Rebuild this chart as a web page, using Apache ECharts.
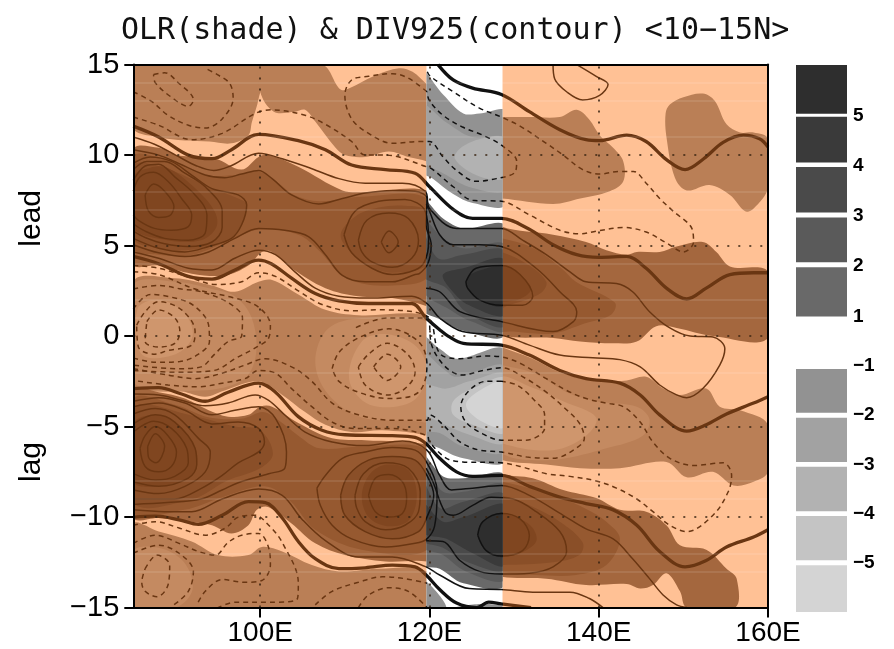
<!DOCTYPE html>
<html><head><meta charset="utf-8">
<style>html,body{margin:0;padding:0;background:#fff}#c{width:894px;height:649px}</style>
<script src="https://cdn.jsdelivr.net/npm/echarts@6/dist/echarts.min.js"></script>
</head><body><div id="c"></div>
<script>
// ---- axes ----
const lonTicks=[100,120,140,160];
const lagTicks=[-15,-10,-5,0,5,10,15];
const gridLons=[100,120,140];
const gridLags=[-10,-5,0,5,10];
const faintRows=[14,13,11,8,7,4,2,1,-2,-8,-9,-12,-13];
const bandLimits=[119.64,128.63];
// ---- colour bar ----
const posBar=[[1,1.98],[2.08,2.97],[3.07,3.97],[4.06,4.97],[5.03,6]];
const negBar=[[-6,-5.05],[-4.95,-4.05],[-3.95,-3.05],[-2.95,-2.05],[-1.95,-1.06]];
// ---- OLR shade, brown part (lon,lag) ----
const pos1Lead=[[85,10.3],[88,10.4],[90,10],[94.7,9.8],[97.8,9.2],[99.8,9.9],[101,10],[104.5,9.35],[109.7,8.05],[112.4,7.95],[119.7,8.05],[128.5,6.05],[134.6,5.6],[138.5,5.2],[140.9,4.75],[143.3,4.5],[144.5,4.65],[147.2,4.65],[149.2,4.95],[152.3,5.2],[153.9,4.65],[155.5,3.85],[160,3.55],[160,-0.1],[153.5,0],[149.2,0.45],[146.8,0.55],[144.5,-0.3],[141.7,-0.4],[137.8,-0.3],[134.6,-0.1],[128.5,0.05],[119.7,1.65],[115.6,2.1],[111.6,2.2],[107.7,2.65],[103.7,3.75],[101.4,4.65],[100.2,4.65],[98.6,3.9],[95.8,3.35],[91.9,3.45],[88,3.9],[85,4]];
const pos1Lag=[[85,-3],[88,-3.1],[91.1,-3.45],[93.9,-4.1],[96.2,-4.45],[98.6,-4.35],[100,-3.9],[101.4,-3.9],[104.5,-4.8],[108.5,-5.65],[112.4,-5.75],[119.7,-6],[128.5,-7.6],[132.2,-7.85],[135.8,-8.5],[139.7,-8.95],[142.5,-9.6],[145.6,-9.7],[148,-10.45],[149.6,-11.55],[152.7,-11.8],[155.1,-12.85],[156.3,-13.4],[156.1,-15],[150.4,-15],[149.6,-14.1],[148,-13.1],[146.4,-13.75],[144.9,-13.95],[143.3,-13.7],[138.5,-13.75],[133.8,-13.4],[128.5,-13.3],[119.7,-12.45],[114.8,-12.45],[110,-12.1],[106.5,-11.45],[103.7,-10.35],[101,-9.45],[99.6,-9.6],[98.6,-10.45],[96.6,-10.9],[94.3,-10.45],[91.9,-10.25],[88,-10.05],[85,-10]];
const pos2LeadWest=[[85,9.9],[89,9.7],[93.5,8.9],[97,8.9],[99.8,9.1],[102,8.5],[104,7.8],[107,7.45],[112,7.7],[119.7,7.6],[120.5,5],[119.7,3.2],[115.6,2.8],[112,2.9],[109.5,3.4],[107,4.7],[104.5,5.6],[100,5.9],[96,5.2],[92,4.5],[88,4.5],[85,4.9]];
const pos2LeadEast=[[126,5.5],[128.5,5.4],[132.3,4.85],[135.6,3.75],[137.3,3],[141.9,1.85],[141.5,1.2],[138.3,0.7],[134.6,0.15],[129.9,0.25],[126,0.5]];
const pos3LeadWest=[[85,9.4],[88,9.4],[92.3,8.6],[94.3,8.15],[97.4,7.6],[98.4,7.25],[97.8,6.15],[96.6,5.4],[93.9,4.95],[91.1,4.75],[88,4.85],[85,5.4]];
const pos3LeadMid=[[109.5,5.6],[111.2,6.6],[114,7.1],[117.1,7.2],[119.7,6.9],[120.5,5.2],[119.7,3.9],[115.6,3.5],[113.2,3.8],[110.8,4.6]];
const pos3LeadEast=[[126,4.8],[128.5,4.65],[131.8,3.9],[133.8,3],[133.2,2.4],[130,1.8],[126,1.4]];
const pos4LeadWest=[[85,8.8],[87,9.3],[89,9.3],[92,8.3],[94.6,6.9],[94.8,6],[93,5.3],[89,5.3],[85,6]];
const pos4LeadEast=[[126,4],[128.5,3.95],[130.7,3.4],[132,2.6],[130.7,2.05],[128.5,1.9],[126,1.9]];
const pos2LagWest=[[85,-3.5],[90,-3.8],[94,-4.5],[98,-4.55],[100.3,-4.2],[102,-4.6],[104.5,-5.5],[107,-6.2],[112,-6.1],[119.7,-6.3],[120.5,-9],[119.7,-11.8],[112,-11.8],[106.5,-10.7],[103.5,-9.1],[100.5,-8.3],[95.5,-8.9],[91,-9.6],[85,-9.7]];
const pos2LagEast=[[126,-7.9],[128.5,-8.05],[132.2,-8.45],[135.8,-9],[138.5,-9.55],[140.9,-10.25],[142.5,-11.2],[140.9,-12.65],[137.3,-13.2],[132.6,-13.2],[128.5,-13.05],[126,-12.9]];
const pos3LagWest=[[85,-4],[92,-4.4],[97,-5],[100,-5.2],[101.5,-6.5],[100,-7.3],[96,-8],[92,-9],[85,-9.2]];
const pos3LagMid=[[109.5,-8.8],[110.4,-7.7],[112.8,-6.85],[115.6,-6.65],[118.3,-6.85],[119.7,-7.7],[120.5,-8.8],[119.7,-10],[118.7,-10.8],[115.6,-11.2],[112.4,-10.8],[110,-9.9]];
const pos3LagEast=[[126,-8.8],[128.5,-8.8],[131.8,-9.35],[135.4,-10.25],[138.1,-11.4],[137.7,-12.1],[134.6,-12.5],[128.5,-12.65],[126,-12.6]];
const pos4LagWest=[[85,-4.85],[87.6,-4.35],[89.9,-4.75],[92.3,-6.2],[92.5,-7.1],[91.5,-7.85],[88,-8.3],[85,-8.05]];
const pos4LagMid=[[112,-8.8],[113,-7.6],[115,-7.1],[117.5,-7.4],[118.5,-8.8],[117.5,-10.2],[115,-10.5],[112.8,-10]];
const pos4LagEast=[[126,-9.8],[128.5,-9.8],[130.7,-10.1],[132.2,-10.6],[132.6,-11.35],[130.7,-12],[128.5,-12.2],[126,-12.2]];
const neg1TopWest=[[85,15],[100.3,15],[99.8,13.1],[99,11.8],[98.6,11.1],[96.6,10.65],[94,10.75],[91.1,10.8],[88,11],[85,11.5]];
const neg1TopMid=[[100.2,15],[100,13.5],[101.6,12.4],[104.1,12.4],[105.3,12.5],[106.5,11.85],[108.9,10.4],[110,10],[112.4,9.9],[115.2,10.2],[117.5,9.9],[119.7,9.65],[122,9],[122,13],[119.7,13.9],[118,14.6],[116.4,14.8],[113.6,14.4],[110,13.6],[109.3,13.7],[107.3,15]];
const neg1TopEast=[[126,12],[128.5,12.1],[131.8,12.1],[135.4,12.1],[137.4,12.5],[138.9,11.95],[140.1,11.1],[141.7,10.4],[142.9,9.65],[142.9,8.55],[141.3,8],[137.8,7.6],[134.6,7.3],[128.5,7.6],[126,7.6]];
const neg1TopFar=[[148.4,12.8],[150,13.2],[152.3,13.4],[153.7,13],[155.1,11.7],[156.7,11.25],[158.3,11.25],[160,10.9],[160,8.2],[158.3,7.05],[157.3,6.9],[155.5,7.8],[153.1,8.35],[150.4,8.05],[149,8.75],[148,11],[147.9,12.3]];
const neg1Mid=[[85,3],[89.9,3.2],[94.3,2.8],[97,2.45],[99.8,3],[101.4,3.1],[104.5,2.3],[107.7,1.45],[111.6,1.15],[119.7,1.15],[128.5,-0.6],[132.2,-1.25],[135.4,-2],[139,-2.45],[140.9,-2.5],[143.3,-2.45],[145.6,-2.25],[147.6,-2.9],[149.6,-3.25],[152.7,-2.9],[154.3,-3.9],[156.7,-4.1],[160,-4.9],[160,-7.5],[158.3,-8.05],[155.9,-8.25],[153.5,-7.5],[150.4,-7.8],[148,-6.95],[142.5,-7.3],[137.8,-7.3],[133.8,-7.1],[128.5,-6.85],[119.7,-5.5],[114.4,-5.2],[110.8,-5.3],[107.7,-4.9],[105.3,-4.2],[102.6,-3.25],[99.8,-2.5],[95.8,-3],[93.5,-3.35],[90.7,-3.05],[85,-2.7]];
const neg1Low=[[85,-10.4],[88,-10.8],[91.9,-11.35],[95,-12.1],[98.6,-12.1],[100.2,-11.65],[102.6,-11.9],[106.1,-12.65],[109.3,-13],[114,-12.85],[119.7,-13],[122,-15],[85,-15]];
const neg2MidWest=[[85,2.8],[90,3],[94.3,2.6],[97,2.2],[99,1],[99.5,-1],[98,-2.4],[93,-3],[85,-2.5]];
const neg2MidEast=[[108,0.4],[112,1],[119.7,0.8],[122,-1],[128.5,-1.6],[132.6,-2.1],[136.2,-3.1],[139.7,-3.6],[144.5,-3.9],[146,-4.6],[145.2,-5.5],[140.9,-6.2],[135.4,-6.8],[130.7,-6.8],[128.5,-6.5],[119.7,-4.8],[112,-4.5],[108,-3.2],[106.5,-1.4]];
const neg3MidEast=[[128,-2.3],[132.2,-2.85],[135.8,-3.6],[139.7,-4.5],[138.5,-5.5],[134.6,-6.3],[128.5,-5.9],[126,-5]];
const neg3MidWest=[[112,-0.3],[115,0.1],[118.5,-0.6],[119.7,-2],[118,-3.6],[113,-3.8],[110.5,-2.4]];
const neg3MidFar=[[85.5,1.5],[88,2],[91,1.3],[92,0],[90,-1],[86,-1]];
const neg2Low=[[85,-11.9],[88,-11.7],[91,-12.5],[92,-14],[90,-15],[85,-15]];
// ---- OLR shade, grey band part ----
const bandNeg1Top=[[119,14.65],[121.6,13.35],[124,12.3],[125.9,12.3],[129,12.4],[129,7.3],[125.1,7.35],[122.8,7.85],[120.4,8.7],[119,9.15]];
const bandNeg2Top=[[119,12.8],[122,11.8],[125,11],[129,10.9],[129,8.1],[125,8.2],[122,8.9],[119,9.9]];
const bandNeg3Top=[[124,10.5],[127,11],[129,10.9],[129,8.8],[126,8.8],[123,9.8]];
const bandPos1Lead=[[119,7.6],[121.6,6.5],[124,5.95],[129,6.05],[129,0.1],[124,0.3],[121.6,0.85],[119,1.6]];
const bandPos2Lead=[[119,6.5],[121.6,5.4],[124,4.85],[129,5],[129,0.35],[125,0.8],[122.8,1.35],[119,2.65]];
const bandPos3Lead=[[119,6],[121,4.3],[124,4.5],[129,4.65],[129,0.6],[124.3,1.35],[122,2.65],[119,3.4]];
const bandPos4Lead=[[121.6,3.4],[124,3.75],[129,4.2],[129,1.2],[124.7,1.7],[122.4,2.65]];
const bandPos5Lead=[[124.3,3],[125.5,3.55],[129,3.75],[129,1.7],[125.9,2]];
const bandNeg1Mid=[[119,0],[121.2,-0.7],[123.2,-1.25],[129,-0.8],[129,-6.85],[124,-6.75],[121.2,-6.2],[119,-5.55]];
const bandNeg2Mid=[[119,-0.9],[121.6,-1.8],[123.2,-2.25],[129,-1.7],[129,-6.3],[124,-6.1],[121.2,-5.35],[119,-5.1]];
const bandNeg3Mid=[[119,-2.7],[122,-2.9],[124.7,-2.5],[129,-2.15],[129,-5.85],[124.7,-5.45],[121.2,-4.75],[119,-4.1]];
const bandNeg4Mid=[[122.8,-3.6],[125.1,-2.9],[129,-2.35],[129,-5.3],[125.1,-4.9],[122.8,-4.35]];
const bandNeg5Mid=[[124.3,-3.8],[126.3,-2.9],[129,-2.5],[129,-5],[126.3,-4.75]];
const bandPos1Lag=[[119,-6.5],[121.6,-7.75],[124,-7.85],[129,-7.75],[129,-13.7],[124,-13.65],[121.2,-12.85],[119,-12.55]];
const bandPos2Lag=[[119,-7.1],[121.6,-8.6],[124,-8.6],[129,-8.3],[129,-13.4],[124.3,-13],[121.6,-12.1],[119,-11.55]];
const bandPos3Lag=[[119,-7.85],[121.2,-9.5],[124,-9.15],[129,-8.8],[129,-12.85],[124.3,-12.45],[121.6,-11.7],[119,-11.2]];
const bandPos4Lag=[[119,-9.15],[121.6,-10.25],[124,-10],[129,-9.35],[129,-12.65],[124.7,-11.9],[122,-11.2],[119,-10.8]];
const bandPos5Lag=[[125.7,-11],[126.3,-10.25],[129,-9.8],[129,-12.15],[126.7,-11.85]];
const bandNeg1Low=[[119,-13.4],[122,-15],[119,-15]];
const bandNeg1Foot=[[123,-15],[126,-14.8],[129,-14.9],[129,-15]];
// ---- DIV925 contours: zero lines ----
const zeroA=[[121,15],[122.8,14.15],[125.1,13.7],[128.5,13.35],[131.8,12.4],[135.4,11.4],[138.5,10.85],[140.1,10.8],[143.3,11.1],[145.6,10.75],[148,9.75],[150.2,9.2],[152.4,9.8],[154.7,10.7],[157.1,11.1],[159,10.9],[160,10.45]];
const zeroB=[[85,11.6],[88,11],[91.5,10],[94.3,9.8],[96.6,10.3],[99.8,11.15],[104.5,10.8],[107.7,10.3],[110.8,9.45],[114.8,9.2],[118.3,9],[120,8.25],[122.8,7],[125.1,6.5],[128.5,6.5],[131.8,5.9],[134.6,5.05],[137.4,4.5],[140,4.35],[143.3,4.4],[145.6,3.75],[148,2.65],[150.4,2.05],[152.7,2.65],[155.5,3.4],[158.3,3.5],[160,3.5]];
const zeroC=[[85,4.4],[88,4],[91.5,3.3],[94.3,3.15],[97,3.65],[99.8,4.2],[101.3,4],[103.7,3.2],[106.5,2.35],[109.3,1.95],[112.8,1.8],[117.9,1.8],[119.6,1],[121.2,0.35],[122.2,0],[124,-0.4],[128.5,-0.5],[131.8,-1.05],[135.4,-1.9],[138.5,-2.35],[142.5,-2.6],[144.9,-3.25],[147.2,-4.35],[150.4,-5.25],[152.7,-4.9],[155.1,-4.3],[158.3,-3.7],[160,-3.35]];
const zeroD=[[85,-2.9],[88,-2.85],[90.7,-3.2],[93.5,-3.6],[96.2,-3.1],[99.8,-2.6],[101.8,-3.1],[104.5,-4.45],[107.3,-5.2],[110,-5.45],[115.6,-5.5],[118.3,-5.6],[119.6,-5.95],[121.2,-6.75],[123.2,-7.5],[125.1,-7.75],[128.5,-7.7],[131.8,-8.3],[135.4,-8.9],[138.5,-9.25],[141.7,-9.6],[144.5,-10.45],[147.2,-11.9],[150.2,-12.75],[152.7,-12.4],[155.1,-11.65],[158.3,-11.1],[160,-10.7]];
const zeroE=[[85,-10],[87.6,-9.95],[90.4,-10.15],[92.7,-10.4],[95.5,-9.9],[98.6,-9.15],[100.6,-9.2],[102.6,-10.05],[104.5,-11.35],[106.5,-12.3],[109.3,-12.85],[112.4,-12.8],[115.6,-12.65],[118.3,-12.75],[119.6,-13.2],[121.2,-14],[123.2,-14.75],[125.6,-15],[127,-14.7],[128.5,-14.8],[132,-15]];
// ---- positive contours ----
const posOuterLead=[[85,11],[87.5,10.6],[90,10],[92.5,9.4],[94.5,9.15],[96.5,9.4],[99.8,10.1],[102.6,9.8],[106.1,9.25],[109.3,8.7],[112.4,8.45],[116.8,8.45],[119.5,8],[120,7.05],[123.2,5.95],[128.5,5.95],[131,5.3],[133.8,4.5],[136.6,3.55],[138.5,3],[142.1,2.9],[144,2.45],[146,1.35],[148.4,0.45],[150.8,0],[153.5,-0.05],[154.9,-0.7],[154.3,-1.6],[152.3,-2.9],[150.4,-3.4],[149.2,-3.25],[147.2,-2.7],[144.9,-1.7],[142.5,-1.3],[139.3,-1.2],[135.4,-1.05],[131.8,-0.5],[128.5,0.05],[123.9,0.25],[121.2,1],[119.7,1.8],[117.9,2.2],[112.8,2.1],[109.3,2.2],[106.5,2.65],[104.1,3.55],[101.8,4.5],[99.8,4.75],[97,4.3],[94.3,3.65],[91.5,3.75],[88,4.3],[85,4.65]];
const posLeadWide=[[85,10.3],[88,10],[90.3,9.55],[93.5,8.9],[95.8,8.75],[97.8,8.95],[99.8,9.15],[101.4,8.7],[103.7,7.8],[106.9,7.3],[109.7,7.6],[112.4,7.9],[115.6,8.05],[118.3,8],[119.7,7.6],[119.6,6.15],[120.2,5.05],[119.8,4],[118.8,3.45],[118.3,3.4],[115.6,3],[112.4,3],[109.7,3.35],[107.7,4.5],[105.7,5.5],[102.9,5.85],[99.8,5.95],[97,5.4],[93.9,4.65],[91.1,4.4],[88,4.6],[85,5.05]];
const leadWest5=[[85,9.55],[87,9.9],[89.5,9.65],[91.9,8.9],[94.3,8.15],[97.4,7.8],[98.4,7.25],[97.8,6.15],[96.6,5.4],[93.9,4.95],[91.1,4.65],[88,4.85],[85,5.4]];
const leadWest4=[[85,9.2],[86.6,9.65],[88.7,9.65],[91.1,9],[93.5,8.25],[95.5,6.9],[95.5,6],[94.3,5.2],[91.5,4.95],[88.7,5.1],[86.4,5.45],[85,5.8]];
const leadWest3=[[85,8.6],[86.4,9.4],[88,9.5],[89.9,8.8],[92.3,7.8],[93.7,6.7],[93.5,5.7],[91.5,5.3],[88.7,5.4],[86.4,5.8],[85,6.2]];
const leadWest2=[[85,8],[85.8,8.8],[87.4,9.05],[89.2,8.5],[90.7,7.6],[91.9,6.7],[91.5,6.05],[89.5,5.85],[87.5,5.95],[85.6,6.4],[85,6.7]];
const leadWest1=[[86.4,7.8],[87.4,8.4],[88.7,8],[89.8,7.15],[89.3,6.65],[88,6.55],[86.8,6.9],[86.4,7.8]];
const leadMid1=[[114.3,5.2],[115.2,5.8],[116.3,5.2],[115.2,4.6],[114.3,5.2]];
const leadMid2=[[111.6,5.3],[112.6,6.4],[115.2,6.8],[117.5,6.5],[118.7,5.3],[117.9,4.3],[115.6,3.8],[113.2,4.1],[112,4.65],[111.6,5.3]];
const leadMid3=[[109.9,5.6],[111.2,6.9],[114,7.45],[117.1,7.55],[119.5,6.9],[119.9,5.2],[119.4,4.1],[118.3,3.65],[115.6,3.4],[113.2,3.75],[110.8,4.6],[109.9,5.6]];
const leadEast1=[[124.3,3],[125.5,3.75],[128.5,3.9],[130.7,3.4],[132.2,2.2],[131,1.7],[128.5,1.7],[125.9,2],[124.5,2.65],[124.3,3]];
const leadEast2=[[119.6,2.65],[121.2,2.45],[123.6,1.35],[128.5,0.8],[134.6,0.25],[137,0.8],[137.4,1.35],[135.4,2.45],[132.6,3.75],[128.5,4.95],[125.9,5.05],[122.8,5.05],[121.2,5.6],[120,6.9],[119.6,7.3]];
const lagWest1=[[86.7,-6.1],[87.6,-5.4],[88.7,-6.1],[87.7,-7],[86.8,-6.7],[86.7,-6.1]];
const lagWest2=[[85.8,-6.2],[86.4,-5.5],[87.6,-5],[89.1,-5.5],[90.1,-6.4],[89.5,-7.2],[88,-7.5],[86.4,-7.2],[85.8,-6.2]];
const lagWest3=[[85,-5.3],[87.4,-4.7],[89.5,-5.1],[91.3,-6.2],[91.5,-7],[89.9,-7.75],[87.6,-7.95],[85,-7.6]];
const lagWest4=[[85,-4.85],[87.6,-4.35],[89.9,-4.75],[92.3,-6.2],[92.5,-7.1],[91.5,-7.85],[88,-8.3],[85,-8.05]];
const lagWest5=[[85,-4.3],[87.6,-4],[89.9,-4.35],[92.7,-5.65],[94.1,-6.4],[93.5,-7.5],[91.1,-8.3],[88,-8.7],[85,-8.5]];
const lagWest6=[[85,-3.9],[88,-3.7],[91.1,-4.1],[94.3,-4.85],[97.4,-4.75],[99.8,-5.1],[100.5,-5.85],[99.8,-6.4],[97.4,-7],[95.5,-7.7],[93.1,-8.4],[89.9,-9],[85,-9]];
const lagWest7=[[85,-3.6],[88,-3.4],[91.1,-3.7],[94.3,-4.35],[97,-4.1],[99.8,-3.9],[101.8,-4.55],[103.1,-6.4],[102.9,-7.3],[101,-7.6],[97.4,-8.1],[95.5,-8.5],[93,-9],[89,-9.2],[85,-9.3]];
const lagOuter=[[85,-3.2],[88,-3.25],[90.7,-3.55],[93.5,-3.85],[96.2,-3.7],[99.4,-3.25],[101,-3.55],[103,-4.4],[105.3,-5.3],[108.5,-5.85],[112.4,-6.05],[116.8,-5.8],[119.7,-6.3],[121.2,-7.7],[122.6,-8.5],[125.1,-8.4],[128.5,-8.25],[131.8,-8.8],[135.8,-9.9],[138.5,-10.65],[141.7,-11.2],[144,-12.3],[146,-13.4],[147.6,-14.3],[149.2,-14.85],[150.4,-15]];
const lagOuterLow=[[140.5,-15],[138.9,-14.5],[136.6,-14.15],[132.2,-14.15],[128.5,-14],[124.7,-13.95],[121.2,-13.2],[119.6,-12.75],[115.6,-12.2],[111.6,-12.2],[107.7,-11.3],[104.9,-10.1],[102.6,-8.8],[99.8,-8.45],[95.5,-9],[91.9,-9.7],[88.7,-9.7],[85,-9.6]];
const lagMidA=[[112.8,-8.8],[113.6,-7.85],[115.2,-7.65],[116.8,-8.05],[117.3,-8.95],[116.8,-9.8],[115.2,-10],[113.6,-9.7],[112.8,-8.8]];
const lagMidB=[[111.2,-8.8],[112.2,-7.6],[114.8,-7],[117.5,-7.3],[118.9,-8.6],[118.7,-9.7],[117.1,-10.45],[114.8,-10.7],[112.4,-10.25],[111.4,-9.5],[111.2,-8.8]];
const lagMidC=[[109.5,-8.8],[110.4,-7.7],[112.8,-6.85],[115.6,-6.65],[118.3,-6.85],[119.7,-7.7],[120.5,-8.8],[119.7,-10],[118.7,-10.8],[115.6,-11.2],[112.4,-10.8],[110,-9.9],[109.5,-8.8]];
const lagMidD=[[106.7,-8.4],[107.7,-7.7],[109.7,-6.75],[112.4,-6.4],[115.6,-6.15],[118.3,-6.3],[119.7,-7],[120.9,-8.6],[120.6,-10.5],[119.7,-11.2],[118.3,-11.45],[114.8,-11.65],[110.8,-11.2],[108.5,-10.45],[107.1,-9.35],[106.7,-8.4]];
const lagEast1=[[125.7,-11],[126.3,-10.25],[128.5,-9.8],[130.7,-10.1],[131.8,-11],[131,-11.85],[128.5,-12.15],[126.7,-11.85],[125.7,-11]];
const lagEast2=[[119.6,-11.3],[121.6,-11.35],[123.6,-12.4],[125.9,-13],[128.5,-13.15],[131.8,-13.1],[134.6,-12.75],[136.2,-11.9],[135.4,-10.8],[132.6,-9.7],[129.9,-9],[127.3,-8.9],[125.1,-9.35],[122.8,-9.9],[121.8,-9.7],[120.4,-8.05],[119.6,-7.3]];
const topRightLoop=[[134.6,15],[134.8,14.2],[136.2,13.5],[138.1,13.05],[140.1,13.3],[141.1,13.9],[139.7,14.35],[137.4,15]];
// ---- negative contours ----
const topCore=[[87.4,14.45],[88.7,14.55],[90.3,14],[92.1,13.05],[91.5,12.7],[89.5,13.2],[87.6,14],[87.4,14.45]];
const topRing=[[85,13.5],[87.2,12.95],[89.1,12.2],[91.5,11.65],[93.5,11.5],[95.5,12],[96.8,13.15],[96.4,13.95],[95.1,14.4],[93.5,14.8]];
const topLong=[[85,12.1],[88,11.65],[91.9,10.85],[95.5,11.2],[99.4,12.3],[101.4,12.5],[105.3,12.2],[107.7,11.7],[110.8,10.75],[112.4,10],[114.8,10],[119.7,9.35],[120.4,9.2],[122.8,8.25],[125.1,7.5],[128.5,7.45],[131.8,6.7],[135.4,5.85],[137.8,5.65],[139.7,5.8],[142.9,6],[145.6,5.75],[148,5.15],[150,4.65],[151.2,5.2],[151,5.95],[148.8,6.9],[147.2,7.6],[145.6,8.45],[144.1,9.1],[142.5,9.1],[140.1,8.95],[138.1,9.2],[135.8,10],[133.8,10.65],[130.7,11.6],[128.5,12.1],[125.9,12.6],[122.8,13.5],[120,14.4],[119.6,14.8]];
const topLoop=[[119.7,13.5],[117.5,14.25],[115.6,14.5],[112.8,14.35],[110.8,14.15],[110,13.3],[110.8,12],[112.8,11.2],[115.6,10.65],[118.8,10.75],[120,10.75],[121.6,9.9],[123.2,9.15],[125.5,8.55],[127.9,8.7],[130.1,9.05],[130.3,9.65],[128.5,10.55],[126.3,11.1],[123.9,11.55],[121.6,12.2],[120,13],[119.7,13.5]];
const midWest1=[[86.6,0.8],[88,1.45],[89.9,1],[90.5,0.25],[89.9,-0.4],[88,-0.6],[86.4,-0.3],[86.6,0.8]];
const midWest2=[[85.4,0.6],[86.4,1.35],[88,1.9],[90.7,1.45],[92.3,0.25],[91.9,-0.5],[89.1,-0.8],[87.4,-1],[85.6,-0.6],[85.4,0.6]];
const midWest3=[[85,1.5],[87,2.3],[89.5,2.15],[92.1,1.7],[93.9,0.6],[94,-0.3],[92.7,-1],[90.5,-1.4],[87.6,-1.45],[85,-1.2]];
const midWest4=[[85,2.6],[88,2.8],[90.7,2.6],[93,2.45],[96.2,1.85],[97.9,1],[97.8,0],[96.2,-0.3],[94.5,-1.05],[93,-1.7],[90.1,-1.8],[85,-1.6]];
const midWest5=[[85,3.55],[88,3.4],[92.3,2.6],[97,2.1],[99.8,1.6],[101.2,0.6],[101,-0.1],[99.6,-0.6],[97.2,-1.2],[94.5,-1.9],[90.5,-2],[85,-1.9]];
const midBig=[[85,-1.8],[89.1,-2.15],[92.3,-2.35],[95.5,-2.05],[98.2,-1.6],[100.6,-1.25],[103.7,-1.7],[106.1,-2.5],[108.5,-3.7],[111.6,-4.35],[115.6,-4.65],[119.7,-4.65],[120,-4.35],[121.6,-4.9],[123.6,-5.85],[125.9,-6.3],[128.5,-6.4],[131.8,-6.7],[134.6,-6.75],[137,-6.3],[138.3,-5.65],[137.7,-4.8],[135.8,-3.9],[133.8,-3.1],[131.4,-2.35],[128.5,-1.75],[126.3,-1.9],[123.9,-2.15],[122.4,-1.9],[121,-1.2],[120.2,-0.4],[119.7,1],[115,1],[111,0.4]];
const midLong=[[85,3.9],[88,3.75],[91.9,3.2],[94.7,2.85],[97.8,3],[99.8,3.5],[101.8,3.3],[104.5,2.5],[107.3,1.75],[110.8,1.4],[113.9,1.45],[119.7,1.1],[121.2,-0.95],[123.6,-1.25],[126.7,-1.1],[128.5,-1.15],[130.7,-1.5],[133.8,-2.35],[136.2,-3],[138.5,-3.45],[140.9,-3.7],[142.9,-3.9],[144.9,-4.75],[146.4,-5.85],[148.4,-6.75],[151.2,-7.15],[154.7,-7],[155.7,-7.7],[155.3,-8.6],[153.5,-9.9],[150.4,-10.8],[148.4,-10.45],[146.4,-9.7],[144.5,-9],[142.1,-8.4],[139.7,-8],[136.6,-7.75],[133.8,-7.6],[130.7,-7.2],[128.5,-7],[123.9,-6.95],[122,-6.75],[120,-5.85],[119.7,-5.5],[115.6,-5.1],[111,-5.1],[108.5,-4.75],[106.1,-3.9],[103.7,-2.9],[101.8,-2.05],[99.8,-1.9],[98.2,-2.35],[95.5,-2.6],[92.7,-2.8],[89.1,-2.7],[85,-2.45]];
const midCore1=[[113.4,-1.7],[115,-1],[116.6,-1.7],[115,-2.45],[113.4,-1.7]];
const midCore2=[[111.6,-1.7],[112.8,-1],[115,-0.4],[117.5,-1.05],[118.3,-2],[117.1,-2.9],[115,-3.25],[112.4,-2.7],[111.6,-1.7]];
const midCore3=[[108.5,-1.8],[109.3,-0.9],[111.6,-0.1],[115.2,0.4],[118.7,-0.3],[119.7,-1.6],[118.7,-3.1],[115.2,-3.45],[111.6,-3.1],[109.3,-2.5],[108.5,-1.8]];
const midEastCore=[[128.5,-2.5],[126.7,-2.5],[124.7,-3],[123.7,-3.9],[124.3,-4.75],[126.3,-5.4],[128.5,-5.75],[131.4,-5.75],[133.6,-5.1],[133.6,-4.35],[132.2,-3.45],[130.3,-2.7],[128.5,-2.5]];
const lowA=[[85,-10.45],[87.6,-10.25],[90.4,-10.6],[93.5,-11],[95.9,-10.6],[97.4,-10],[99.4,-9.9],[101,-10.45],[102.6,-11.4],[104.5,-13.65],[104.4,-14.5],[101.4,-14.7],[97.1,-14.7],[95,-15]];
const lowB=[[85,-11.45],[87.6,-11],[90.4,-11.45],[92.7,-11.9],[94.7,-12.1],[96.2,-11.4],[97.8,-11],[99.8,-10.9],[101,-11.7],[101.2,-12.65],[100.2,-13.5],[98.2,-13.6],[95.5,-13.45],[93.5,-14.1],[92.5,-14.85]];
const lowCore=[[86.4,-12.85],[87.8,-12.1],[89.3,-12.65],[89.1,-13.75],[87.8,-14.4],[86.4,-14.1],[86,-13.6],[86.4,-12.85]];
const lowRing=[[85,-12],[88,-11.55],[90.7,-12.1],[92.1,-13],[91.5,-14.1],[89.5,-14.95]];
const lowEastA=[[106.5,-14.85],[108.5,-14.1],[111.6,-13.6],[114.4,-13.3],[117.1,-13.4],[119.7,-13.65]];
const lowEastB=[[111.6,-15],[112.8,-14.3],[115.2,-13.9],[117.5,-14.1],[119.7,-15]];

// ---- groups ----
const brownLayers=[
 [neg1TopWest,neg1TopMid,neg1TopEast,neg1TopFar,neg1Mid,neg1Low],
 [neg2MidWest,neg2MidEast,neg2Low],
 [neg3MidEast,neg3MidWest,neg3MidFar],
 [pos1Lead,pos1Lag],
 [pos2LeadWest,pos2LeadEast,pos2LagWest,pos2LagEast],
 [pos3LeadWest,pos3LeadMid,pos3LeadEast,pos3LagWest,pos3LagMid,pos3LagEast],
 [pos4LeadWest,pos4LeadEast,pos4LagWest,pos4LagMid,pos4LagEast]
];
const brownColors=['#BA7F56','#C48A61','#CF966D','#A4673E','#965930','#8A4F28','#804620'];
const greyLayers=[
 [bandNeg1Top,bandNeg1Mid,bandNeg1Low,bandNeg1Foot],
 [bandNeg2Top,bandNeg2Mid],
 [bandNeg3Top,bandNeg3Mid],
 [bandNeg4Mid],
 [bandNeg5Mid],
 [bandPos1Lead,bandPos1Lag],
 [bandPos2Lead,bandPos2Lag],
 [bandPos3Lead,bandPos3Lag],
 [bandPos4Lead,bandPos4Lag],
 [bandPos5Lead,bandPos5Lag]
];
const greyColors=['#929292','#A2A2A2','#B2B2B2','#C4C4C4','#D4D4D4','#696969','#5A5A5A','#4A4A4A','#3A3A3A','#2E2E2E'];
const thickLines=[zeroA,zeroB,zeroC,zeroD,zeroE];
const thinLines=[posOuterLead,posLeadWide,leadWest5,leadWest4,leadWest3,leadWest2,leadWest1,leadMid1,leadMid2,leadMid3,leadEast1,leadEast2,lagWest1,lagWest2,lagWest3,lagWest4,lagWest5,lagWest6,lagWest7,lagOuter,lagOuterLow,lagMidA,lagMidB,lagMidC,lagMidD,lagEast1,lagEast2,topRightLoop];
const dashedLines=[topCore,topRing,topLong,topLoop,midWest1,midWest2,midWest3,midWest4,midWest5,midBig,midLong,midCore1,midCore2,midCore3,midEastCore,lowA,lowB,lowCore,lowRing,lowEastA,lowEastB];

const chart=echarts.init(document.getElementById('c'),null,{renderer:'canvas'});
const minus=v=>String(v).replace('-','\u2212');
function bandClip(api){
  const a=api.coord([bandLimits[0],15]),b=api.coord([bandLimits[1],-15]);
  return {type:'rect',shape:{x:a[0],y:a[1],width:b[0]-a[0],height:b[1]-a[1]}};
}
function polySeries(polys,color,inBand){
  return {type:'custom',coordinateSystem:'cartesian2d',clip:true,silent:true,animation:false,
    data:polys.map((p,i)=>[i]),
    renderItem(params,api){
      const el={type:'polygon',shape:{points:polys[params.dataIndex].map(p=>api.coord(p)),smooth:0.35},style:{fill:color}};
      if(inBand) el.clipPath=bandClip(api);
      return el;
    }};
}
function barSeries(levels,colors,xi,yi){
  return {type:'custom',coordinateSystem:'cartesian2d',xAxisIndex:xi,yAxisIndex:yi,silent:true,animation:false,
    data:levels.map((l,i)=>[0,l[0],l[1]]),
    renderItem(params,api){
      const a=api.coord([0,api.value(2)]),b=api.coord([1,api.value(1)]);
      return {type:'rect',shape:{x:a[0],y:a[1],width:b[0]-a[0],height:b[1]-a[1]},style:{fill:colors[params.dataIndex]}};
    }};
}
const series=[];
brownLayers.forEach((l,i)=>series.push(polySeries(l,brownColors[i],false)));
series.push({type:'custom',coordinateSystem:'cartesian2d',silent:true,animation:false,data:[[0]],
  renderItem(p,api){const c=bandClip(api);return {type:'rect',shape:c.shape,style:{fill:'#fff'}};}});
greyLayers.forEach((l,i)=>series.push(polySeries(l,greyColors[i],true)));
const lineStart=series.length;
const lineSeries=(d,w,t)=>({type:'line',data:d,smooth:0.35,showSymbol:false,silent:true,animation:false,lineStyle:{width:w,type:t}});
dashedLines.forEach(d=>series.push(lineSeries(d,1.5,[5,4])));
thinLines.forEach(d=>series.push(lineSeries(d,1.5,'solid')));
thickLines.forEach(d=>series.push(lineSeries(d,3.3,'solid')));
const lineEnd=series.length;
series.push({type:'line',data:[],silent:true,animation:false,markLine:{silent:true,symbol:'none',animation:false,label:{show:false},
  lineStyle:{color:'#fff',opacity:0.13,width:1.5,type:'solid'},data:faintRows.map(y=>({yAxis:y}))}});
series.push({type:'line',data:[],silent:true,animation:false,markLine:{silent:true,symbol:'none',animation:false,label:{show:false},
  lineStyle:{color:'#3a2412',width:1.6,type:[2,9]},data:gridLons.map(x=>({xAxis:x})).concat(gridLags.map(y=>({yAxis:y})))}});
series.push(barSeries(posBar,['#696969','#5A5A5A','#4A4A4A','#3A3A3A','#2E2E2E'],2,2));
series.push(barSeries(negBar,['#D4D4D4','#C4C4C4','#B2B2B2','#A2A2A2','#929292'],3,3));

const hiddenX={type:'value',min:0,max:1,show:false};
const barLabel={show:true,fontFamily:'Liberation Sans',fontWeight:'bold',fontSize:19,color:'#000',margin:6,formatter:v=>(Math.abs(v)==6?'':minus(v))};
chart.setOption({
  animation:false,backgroundColor:'#fff',
  title:{text:'OLR(shade) & DIV925(contour) <10\u221215N>',left:116,top:11,textStyle:{fontFamily:'DejaVu Sans Mono',fontWeight:'normal',fontSize:30,color:'#111'}},
  graphic:[
    {type:'text',left:17,top:190,rotation:Math.PI/2,style:{text:'lead',font:'30px "Liberation Sans"',fill:'#000'}},
    {type:'text',left:17,top:442,rotation:Math.PI/2,style:{text:'lag',font:'30px "Liberation Sans"',fill:'#000'}}
  ],
  visualMap:{show:false,type:'piecewise',dimension:0,seriesIndex:series.map((s,i)=>i).filter(i=>i>=lineStart&&i<lineEnd),
    pieces:[{lt:bandLimits[0],color:'#6A3612'},{gte:bandLimits[0],lte:bandLimits[1],color:'#111'},{gt:bandLimits[1],color:'#6A3612'}]},
  grid:[
    {left:133.3,top:64.6,width:634.7,height:543,show:true,backgroundColor:'#FFC195',borderWidth:0},
    {left:796,top:65,width:51,height:251.5},
    {left:796,top:366,width:51,height:246}
  ],
  xAxis:[
    {type:'value',min:85,max:160,gridIndex:0,position:'bottom',z:10,splitLine:{show:false},
     axisLine:{onZero:false,lineStyle:{color:'#000',width:2}},axisTick:{customValues:lonTicks,length:10,lineStyle:{color:'#000',width:2}},
     axisLabel:{customValues:lonTicks,margin:12,fontFamily:'Liberation Sans',fontSize:28,color:'#000',formatter:v=>v+'E'}},
    {type:'value',min:85,max:160,gridIndex:0,position:'top',z:10,splitLine:{show:false},axisLine:{onZero:false,lineStyle:{color:'#000',width:2}},axisTick:{show:false},axisLabel:{show:false}},
    Object.assign({gridIndex:1},hiddenX),Object.assign({gridIndex:2},hiddenX)
  ],
  yAxis:[
    {type:'value',min:-15,max:15,interval:5,gridIndex:0,position:'left',z:10,splitLine:{show:false},
     axisLine:{onZero:false,lineStyle:{color:'#000',width:2}},axisTick:{length:9,lineStyle:{color:'#000',width:2}},
     axisLabel:{margin:14,fontFamily:'Liberation Sans',fontSize:29,color:'#000',formatter:v=>minus(v)}},
    {type:'value',min:-15,max:15,interval:5,gridIndex:0,position:'right',z:10,splitLine:{show:false},axisLine:{onZero:false,lineStyle:{color:'#000',width:2}},axisTick:{show:false},axisLabel:{show:false}},
    {type:'value',min:1,max:6,interval:1,gridIndex:1,position:'right',splitLine:{show:false},axisLine:{show:false},axisTick:{show:false},axisLabel:barLabel},
    {type:'value',min:-6,max:-1,interval:1,gridIndex:2,position:'right',splitLine:{show:false},axisLine:{show:false},axisTick:{show:false},axisLabel:barLabel}
  ],
  series
});
</script></body></html>
